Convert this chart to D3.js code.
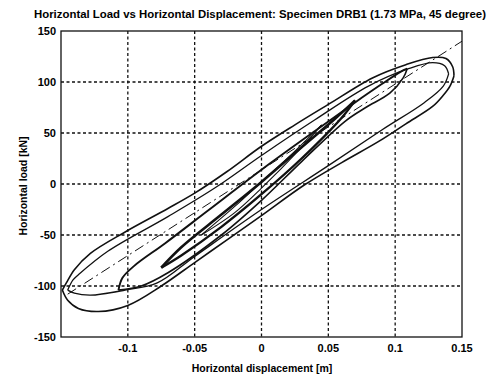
<!DOCTYPE html>
<html>
<head>
<meta charset="utf-8">
<script src="https://cdn.jsdelivr.net/npm/d3@7"></script>
<style>
  body { margin: 0; background: #fff; }
  svg { display: block; font-family: "Liberation Sans", Arial, sans-serif; font-weight: bold; }
</style>
</head>
<body>
<div id="chart"></div>
<script>
// tick values
const xTicks = [-0.1, -0.05, 0, 0.05, 0.1, 0.15];
const xGrid = [-0.1, -0.05, 0, 0.05, 0.1];
const yTicks = [-150, -100, -50, 0, 50, 100, 150];
const yGrid = [-100, -50, 0, 50, 100];

// hysteresis branches, [displacement m, load kN]
const outerUp = [[-0.149, -104], [-0.146, -97], [-0.140, -84], [-0.128, -68], [-0.102, -47], [-0.070, -24], [-0.05, -9], [-0.026, 12], [0, 37], [0.025, 58], [0.05, 78], [0.083, 104], [0.108, 117], [0.128, 124], [0.138, 123], [0.143, 115], [0.144, 106]];
const outerDown = [[0.144, 106], [0.141, 96], [0.136, 87], [0.128, 76], [0.108, 59], [0.088, 42], [0.06, 21], [0.032, -1], [0, -31], [-0.025, -54], [-0.05, -77], [-0.075, -100], [-0.10, -119], [-0.122, -125], [-0.137, -122], [-0.145, -114], [-0.149, -104]];

const secondUp = [[-0.145, -104], [-0.141, -94], [-0.137, -89], [-0.115, -66], [-0.07, -32], [-0.035, -4], [0, 28], [0.04, 63], [0.08, 96], [0.11, 113], [0.128, 119], [0.137, 116], [0.14, 108]];
const secondDown = [[0.14, 108], [0.136, 96], [0.122, 80], [0.09, 53], [0.05, 18], [0, -25], [-0.05, -71], [-0.078, -97], [-0.102, -104], [-0.128, -109], [-0.14, -107], [-0.145, -104]];

const middleUp = [[-0.107, -104], [-0.104, -92], [-0.095, -80], [-0.072, -58], [-0.04, -26], [0, 14], [0.04, 52], [0.07, 80], [0.09, 98], [0.104, 110], [0.109, 113]];
const middleDown = [[0.109, 113], [0.106, 104], [0.096, 89], [0.078, 75], [0.063, 62], [0.03, 22], [0, -16], [-0.03, -50], [-0.07, -87], [-0.09, -100], [-0.107, -104]];

const innerUp = [[-0.075, -82], [-0.06, -62], [-0.03, -30], [0, 2], [0.03, 36], [0.055, 64], [0.07, 82]];
const innerDown = [[0.07, 82], [0.06, 65], [0.03, 25], [0, -10], [-0.03, -42], [-0.06, -70], [-0.075, -82]];

const centreUp = [[-0.045, -50], [-0.02, -22], [0, 2], [0.02, 26], [0.045, 58]];
const centreDown = [[0.045, 58], [0.03, 36], [0, -4], [-0.02, -28], [-0.045, -50]];

// secant stiffness line (dash-dot)
const fitLine = [[-0.145, -108], [0.15, 140]];

const width = 488, height = 376;
const margin = { top: 31, right: 26, bottom: 39, left: 61 };

const svg = d3.select("#chart").append("svg")
  .attr("width", width)
  .attr("height", height);

const x = d3.scaleLinear().domain([-0.15, 0.15]).range([margin.left, width - margin.right]);
const y = d3.scaleLinear().domain([-150, 150]).range([height - margin.bottom, margin.top]);

svg.append("defs").append("clipPath").attr("id", "plot-clip")
  .append("rect")
  .attr("x", x(-0.15)).attr("y", y(150))
  .attr("width", x(0.15) - x(-0.15)).attr("height", y(-150) - y(150));

// grid
const grid = svg.append("g").attr("stroke", "#111").attr("stroke-width", 1.3).attr("stroke-dasharray", "3,2.5");
grid.selectAll(".gx").data(xGrid).join("line")
  .attr("x1", d => x(d)).attr("x2", d => x(d))
  .attr("y1", y(150)).attr("y2", y(-150));
grid.selectAll(".gy").data(yGrid).join("line")
  .attr("x1", x(-0.15)).attr("x2", x(0.15))
  .attr("y1", d => y(d)).attr("y2", d => y(d));

// curves
const line = d3.line().x(d => x(d[0])).y(d => y(d[1])).curve(d3.curveCatmullRom.alpha(0.5));
const plot = svg.append("g").attr("clip-path", "url(#plot-clip)").attr("fill", "none").attr("stroke", "#111");

const branches = [
  { pts: outerUp, w: 1.6 }, { pts: outerDown, w: 1.6 },
  { pts: secondUp, w: 1.3 }, { pts: secondDown, w: 1.3 },
  { pts: middleUp, w: 1.9 }, { pts: middleDown, w: 1.6 },
  { pts: innerUp, w: 2.6 }, { pts: innerDown, w: 2.4 },
  { pts: centreUp, w: 1.1 }, { pts: centreDown, w: 1.1 }
];
plot.selectAll("path.branch").data(branches).join("path")
  .attr("class", "branch")
  .attr("d", d => line(d.pts))
  .attr("stroke-width", d => d.w)
  .attr("stroke-linejoin", "round");

plot.append("path")
  .attr("d", d3.line().x(d => x(d[0])).y(d => y(d[1]))(fitLine))
  .attr("stroke-width", 1)
  .attr("stroke-dasharray", "10,4,2,4");

// box
svg.append("rect")
  .attr("x", x(-0.15)).attr("y", y(150))
  .attr("width", x(0.15) - x(-0.15)).attr("height", y(-150) - y(150))
  .attr("fill", "none").attr("stroke", "#111").attr("stroke-width", 1.3);

// tick labels
const fmt = d => String(d);
svg.append("g").selectAll("text").data(xTicks).join("text")
  .attr("x", d => x(d)).attr("y", height - margin.bottom + 15)
  .attr("text-anchor", "middle").attr("font-size", 11)
  .text(fmt);
svg.append("g").selectAll("text").data(yTicks).join("text")
  .attr("x", margin.left - 5).attr("y", d => y(d)).attr("dy", "0.35em")
  .attr("text-anchor", "end").attr("font-size", 11)
  .text(fmt);

// titles
svg.append("text")
  .attr("x", 260).attr("y", 18)
  .attr("text-anchor", "middle").attr("font-size", 10.5)
  .attr("textLength", 452).attr("lengthAdjust", "spacingAndGlyphs")
  .text("Horizontal Load vs Horizontal Displacement: Specimen DRB1 (1.73 MPa, 45 degree)");
svg.append("text")
  .attr("x", 262).attr("y", 372)
  .attr("text-anchor", "middle").attr("font-size", 10.5)
  .text("Horizontal displacement [m]");
svg.append("text")
  .attr("transform", "translate(27,186) rotate(-90)")
  .attr("text-anchor", "middle").attr("font-size", 10.5)
  .text("Horizontal load [kN]");
</script>
</body>
</html>
